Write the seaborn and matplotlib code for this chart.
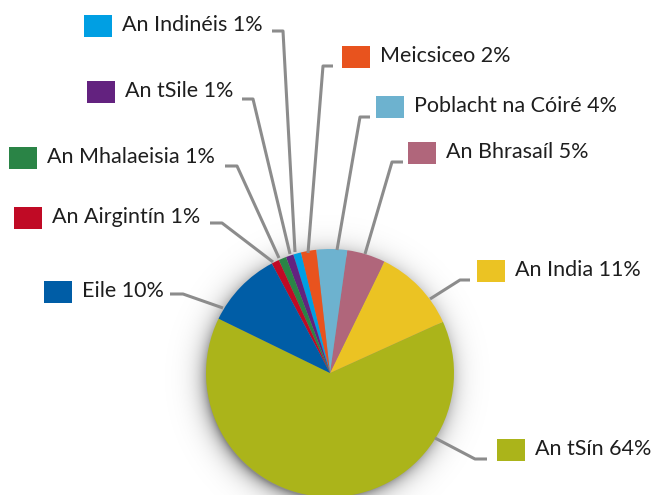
import numpy as np
import matplotlib
matplotlib.use("Agg")
import matplotlib.pyplot as plt
import seaborn as sns

# Data (counter-clockwise order starting from An tSín)
labels = ["An tSín", "An India", "An Bhrasaíl", "Poblacht na Cóiré", "Meicsiceo",
          "An Indinéis", "An tSile", "An Mhalaeisia", "An Airgintín", "Eile"]
values = [64, 11, 5, 4, 2, 1, 1, 1, 1, 10]
colors = ["#ABB41A", "#EBC323", "#B0667B", "#6DB2CF", "#E8531E",
          "#009FE3", "#63227F", "#2A8446", "#C00A25", "#005DA6"]

sns.set_theme(style="white")
plt.rcParams['font.family'] = ['Lato', 'DejaVu Sans']

W, H = 652, 495
fig = plt.figure(figsize=(W / 100, H / 100), dpi=100)
ax = fig.add_axes([0, 0, 1, 1])

cx, cy_img, R = 330, 373, 124
cy = H - cy_img

# soft shadow under pie
yy, xx = np.mgrid[0:H, 0:W]
d = np.hypot(xx - (cx - 3), (H - yy) - (cy - 4))
a = np.clip(0.45 * np.exp(-np.clip(d - R + 4, 0, None) / 9.0), 0, 0.45)
a[d > R + 45] = 0
img = np.zeros((H, W, 4))
img[..., 3] = a
ax.imshow(img, extent=(0, W, 0, H), origin="upper", zorder=1, aspect="auto")

ax.pie(values, colors=colors, startangle=154, counterclock=True,
       center=(cx, cy), radius=R, frame=True,
       wedgeprops=dict(linewidth=0, zorder=2))
ax.set_xlim(0, W)
ax.set_ylim(0, H)
ax.set_aspect("auto")
ax.axis("off")

# label layout: (square left x, label y centre, leader points) in image pixels
layout = {
    "An Indinéis":       (84, 26, [(272, 31), (283, 31), (295, 252)]),
    "An tSile":          (87, 92, [(242, 99), (253, 99), (290, 254)]),
    "An Mhalaeisia":     (9, 158, [(225, 166), (237, 166), (279, 258)]),
    "An Airgintín":      (14, 218, [(210, 223), (222, 223), (273, 262)]),
    "Eile":              (44, 292, [(170, 294), (183, 294), (223, 308)]),
    "Meicsiceo":         (342, 57, [(333, 66), (323, 66), (308, 253)]),
    "Poblacht na Cóiré": (376, 107, [(370, 117), (360, 117), (337, 250)]),
    "An Bhrasaíl":       (408, 153, [(403, 162), (392, 162), (365, 254)]),
    "An India":          (477, 271, [(470, 280), (460, 280), (430, 299)]),
    "An tSín":           (497, 450, [(487, 459), (475, 459), (435, 438)]),
}

for lab, val, col in zip(labels, values, colors):
    sx, ly, pts = layout[lab]
    xs = [p[0] for p in pts]
    ys = [H - p[1] for p in pts]
    ax.plot(xs, ys, color="#8C8C8C", lw=2.2, solid_capstyle="butt", zorder=3)
    ax.add_patch(plt.Rectangle((sx, H - ly - 11), 28, 22, color=col, lw=0, zorder=3))
    ax.text(sx + 38, H - ly + 1, f"{lab} {val}%", fontsize=15.5, color="#1E1E1E",
            fontweight="normal", va="center", ha="left", zorder=4)

fig.savefig("out.png", dpi=100)
